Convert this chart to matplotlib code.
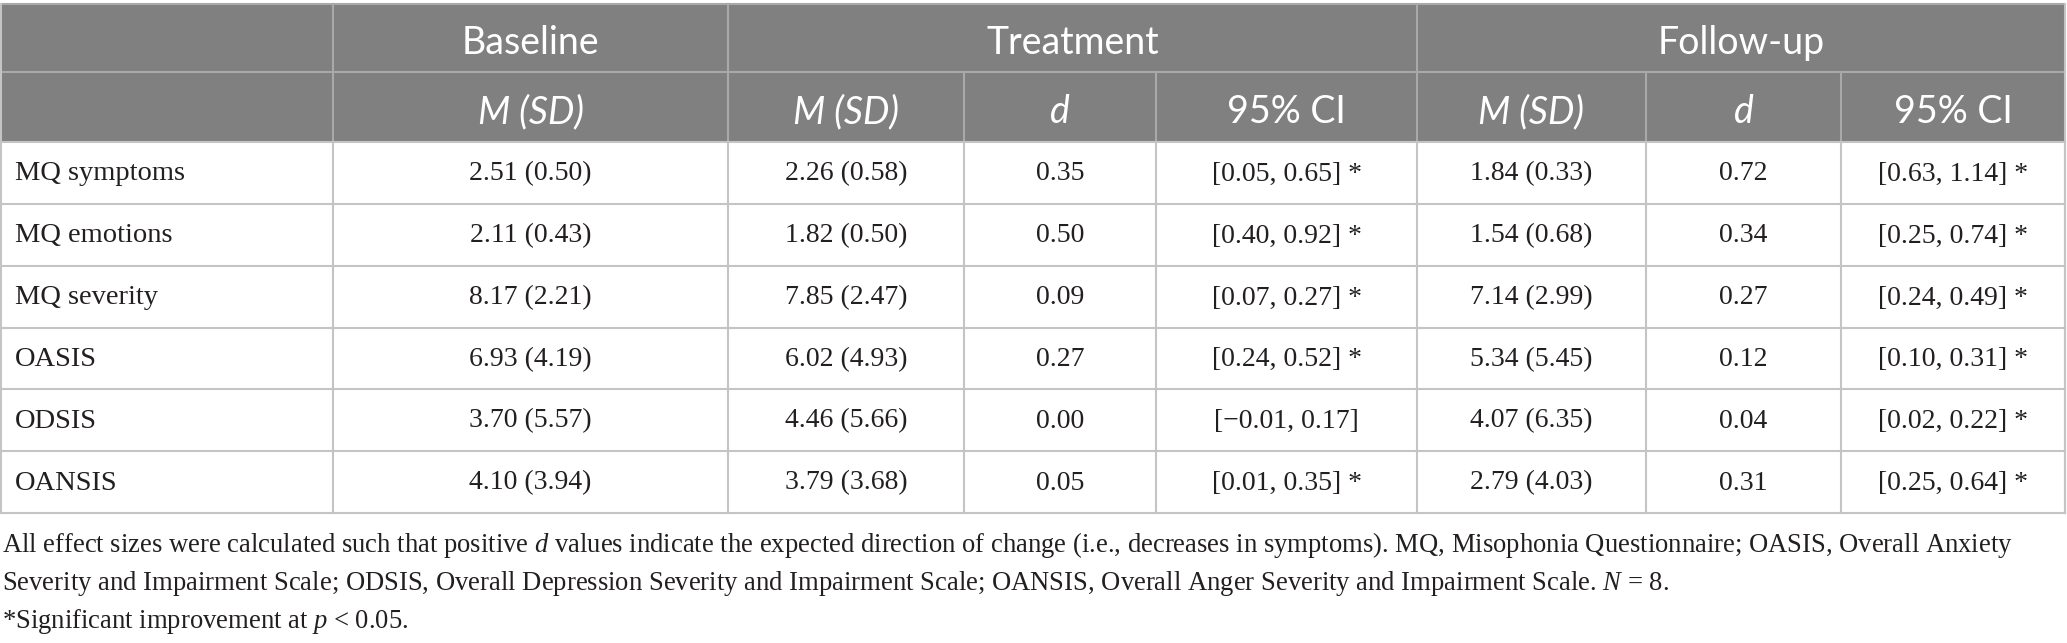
import matplotlib
matplotlib.use("Agg")
import matplotlib.pyplot as plt
from matplotlib.patches import Rectangle

plt.rcParams['mathtext.fontset'] = 'custom'
plt.rcParams['mathtext.rm'] = 'Liberation Serif'
plt.rcParams['mathtext.it'] = 'Liberation Serif:italic'

# table content
groups = ['Baseline', 'Treatment', 'Follow-up']
sub_headers = ['M (SD)', 'M (SD)', 'd', '95% CI', 'M (SD)', 'd', '95% CI']
measures = ['MQ symptoms', 'MQ emotions', 'MQ severity', 'OASIS', 'ODSIS', 'OANSIS']
baseline_msd = ['2.51 (0.50)', '2.11 (0.43)', '8.17 (2.21)', '6.93 (4.19)', '3.70 (5.57)', '4.10 (3.94)']
treat_msd = ['2.26 (0.58)', '1.82 (0.50)', '7.85 (2.47)', '6.02 (4.93)', '4.46 (5.66)', '3.79 (3.68)']
treat_d = ['0.35', '0.50', '0.09', '0.27', '0.00', '0.05']
treat_ci = ['[0.05, 0.65] *', '[0.40, 0.92] *', '[0.07, 0.27] *', '[0.24, 0.52] *',
            '[\u22120.01, 0.17]', '[0.01, 0.35] *']
follow_msd = ['1.84 (0.33)', '1.54 (0.68)', '7.14 (2.99)', '5.34 (5.45)', '4.07 (6.35)', '2.79 (4.03)']
follow_d = ['0.72', '0.34', '0.27', '0.12', '0.04', '0.31']
follow_ci = ['[0.63, 1.14] *', '[0.25, 0.74] *', '[0.24, 0.49] *', '[0.10, 0.31] *',
             '[0.02, 0.22] *', '[0.25, 0.64] *']
footnotes = [
    'All effect sizes were calculated such that positive $d$ values indicate the expected direction of change '
    '(i.e., decreases in symptoms). MQ, Misophonia Questionnaire; OASIS, Overall Anxiety',
    'Severity and Impairment Scale; ODSIS, Overall Depression Severity and Impairment Scale; '
    'OANSIS, Overall Anger Severity and Impairment Scale. $N$ = 8.',
    '*Significant improvement at $p$ < 0.05.',
]

# layout in pixels
W, H = 2067, 643
col_x = [0, 333, 728, 964, 1156, 1417, 1646, 1841, 2065]
row_y = [4, 72, 142, 204, 266, 328, 389, 451, 513]
group_span = [(1, 2), (2, 5), (5, 8)]
head_bg = '#808080'
head_line = '#a9a9a9'
grid = '#c4c4c4'
txt = '#231f20'
head_font = 'Lato'
body_font = 'Liberation Serif'

fig = plt.figure(figsize=(W / 100, H / 100), dpi=100)
ax = fig.add_axes([0, 0, 1, 1])
ax.set_xlim(0, W)
ax.set_ylim(H, 0)
ax.axis('off')

# header background
ax.add_patch(Rectangle((col_x[0], row_y[0]), col_x[-1] - col_x[0], row_y[2] - row_y[0],
                       facecolor=head_bg, edgecolor='none'))

# header row 1
for name, (a, b) in zip(groups, group_span):
    ax.text((col_x[a] + col_x[b]) / 2, (row_y[0] + row_y[1]) / 2 + 5, name,
            ha='center', va='center', color='white', fontsize=27, family=head_font)
for a, b in group_span:
    ax.plot([col_x[a], col_x[a]], [row_y[0], row_y[1]], color=head_line, lw=1.5)
# header row 2
for i, s in enumerate(sub_headers):
    c = i + 1
    ax.text((col_x[c] + col_x[c + 1]) / 2, (row_y[1] + row_y[2]) / 2 + 5, s,
            ha='center', va='center', color='white', fontsize=27, family=head_font,
            style='italic' if s != '95% CI' else 'normal')
for c in range(1, 8):
    ax.plot([col_x[c], col_x[c]], [row_y[1], row_y[2]], color=head_line, lw=1.5)
ax.plot([col_x[0], col_x[-1]], [row_y[0], row_y[0]], color=head_line, lw=1.5)
ax.plot([col_x[0], col_x[-1]], [row_y[1], row_y[1]], color=head_line, lw=1.5)

# body
cols = [baseline_msd, treat_msd, treat_d, treat_ci, follow_msd, follow_d, follow_ci]
for r, m in enumerate(measures):
    yc = (row_y[r + 2] + row_y[r + 3]) / 2 + 1
    ax.text(col_x[0] + 15, yc, m, ha='left', va='center', color=txt,
            fontsize=20.5, family=body_font)
    for c, vals in enumerate(cols):
        ax.text((col_x[c + 1] + col_x[c + 2]) / 2, yc, vals[r], ha='center', va='center',
                color=txt, fontsize=20, family=body_font)

for y in row_y[2:]:
    ax.plot([col_x[0], col_x[-1]], [y, y], color=grid, lw=1.5)
for x in col_x:
    ax.plot([x, x], [row_y[2], row_y[-1]], color=grid, lw=1.5)
ax.plot([col_x[0] + 0.7, col_x[0] + 0.7], [row_y[0], row_y[-1]], color=grid, lw=1.5)
ax.plot([col_x[-1], col_x[-1]], [row_y[0], row_y[-1]], color=grid, lw=1.5)

# footnotes
for i, line in enumerate(footnotes):
    ax.text(2, 552 + i * 38, line, ha='left', va='baseline', color=txt,
            fontsize=19.15, family=body_font)

fig.savefig('out.png', dpi=100)
